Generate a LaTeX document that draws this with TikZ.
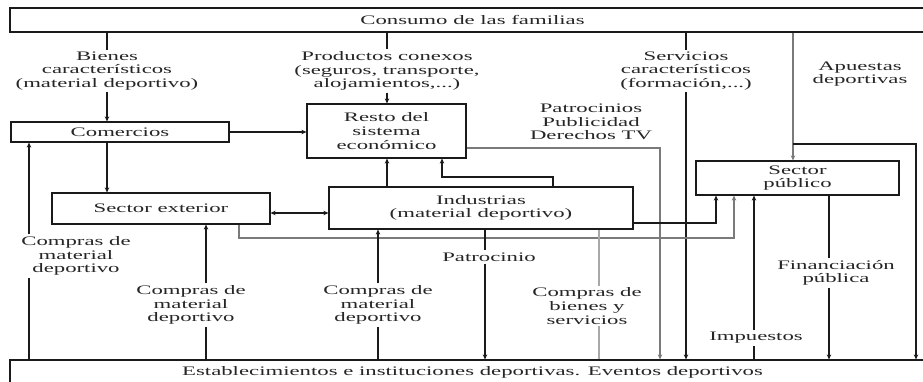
\documentclass[tikz,border=0pt]{standalone}
\usepackage{fontspec}
\setmainfont{Liberation Serif}[FakeStretch=1.75]
\usepackage{xcolor}
\usetikzlibrary{positioning,calc,arrows.meta}
\definecolor{texto}{HTML}{262626}
\definecolor{linea}{HTML}{1A1A1A}
\definecolor{gris}{HTML}{7A7A7A}
\definecolor{grisclaro}{HTML}{A8A8A8}

\begin{document}
\begin{tikzpicture}[x=1pt, y=-1pt,
		caja/.style={draw=linea, line width=1.2pt, inner sep=0pt, align=center, text=texto, font=\fontsize{13}{13.6}\selectfont},
		etiqueta/.style={align=center, inner sep=2pt, text=texto, font=\fontsize{13}{13.6}\selectfont},
		flujo/.style={draw=linea, line width=1.2pt},
		punta/.tip={Stealth[length=5pt, width=4.5pt]},
		flecha/.style={flujo, -punta}]
			\fill[white] (0,0) rectangle (923,381);
			\useasboundingbox (0,0) rectangle (923,381);
			\node[caja, minimum width=925pt, minimum height=24pt] (consumo) at (472.5,20) {Consumo de las familias};
			\node[caja, minimum width=925pt, minimum height=24pt] (establecimientos) at (472.5,372) {Establecimientos e instituciones deportivas. Eventos deportivos};
			\node[caja, minimum width=218pt, minimum height=20pt] (comercios) at (120,132) {Comercios};
			\node[caja, minimum width=159pt, minimum height=54pt] (resto) at (386.5,131) {Resto del\\sistema\\económico};
			\node[caja, minimum width=218pt, minimum height=31pt] (sectorext) at (161,208.5) {Sector exterior};
			\node[caja, minimum width=304pt, minimum height=42pt] (industrias) at (481,208) {Industrias\\(material deportivo)};
			\node[caja, minimum width=203pt, minimum height=34pt] (publico) at (797.5,178) {Sector\\público};

			\node[etiqueta] (bienes) at (107,71) {Bienes\\característicos\\(material deportivo)};
			\node[etiqueta] (conexos) at (387,71) {Productos conexos\\(seguros, transporte,\\alojamientos,...)};
			\node[etiqueta] (servicios) at (686,71) {Servicios\\característicos\\(formación,...)};
			\node[etiqueta] (apuestas) at (860,74) {Apuestas\\deportivas};
			\node[etiqueta] (patrocinios) at (591,122) {Patrocinios\\Publicidad\\Derechos TV};
			\node[etiqueta] (comprasA) at (76,256) {Compras de\\material\\deportivo};
			\node[etiqueta] (comprasB) at (191,305) {Compras de\\material\\deportivo};
			\node[etiqueta] (comprasC) at (378,305) {Compras de\\material\\deportivo};
			\node[etiqueta] (patrocinio) at (489,257) {Patrocinio};
			\node[etiqueta] (comprasG) at (587,306) {Compras de\\bienes y\\servicios};
			\node[etiqueta] (impuestos) at (756,338) {Impuestos};
			\node[etiqueta] (financiacion) at (836,273) {Financiación\\pública};

			\coordinate (xA) at (29,0);
			\coordinate (xB) at (206,0);
			\coordinate (xP) at (485,0);
			\coordinate (xG) at (599,0);
			\coordinate (xT) at (660,148);
			\coordinate (xI) at (754,0);
			\coordinate (xF) at (829,0);
			\coordinate (xAp) at (793,144);
			\coordinate (xR) at (916,144);
			\coordinate (xE) at (239,238);
			\coordinate (xEp) at (734,238);
			\coordinate (xInd) at (716,223);
			\coordinate (k1) at (553,177);
			\coordinate (k2) at (442,177);

			\draw[flujo] (consumo.south -| bienes) -- (bienes.north);
			\draw[flecha] (bienes.south) -- (comercios.north -| bienes);
			\draw[flujo] (consumo.south -| conexos) -- (conexos.north);
			\draw[flecha] (conexos.south) -- (resto.north -| conexos);
			\draw[flujo] (consumo.south -| servicios) -- (servicios.north);
			\draw[flecha] (servicios.south) -- (establecimientos.north -| servicios);
			\draw[flecha, draw=gris, line width=1.5pt] (consumo.south -| xAp) -- (publico.north -| xAp);
			\draw[flecha] (xAp) -- (xR) -- (establecimientos.north -| xR);

			\draw[flecha] (comercios.east) -- (comercios.east -| resto.west);
			\draw[flecha] (comercios.south -| bienes) -- (sectorext.north -| bienes);
			\draw[flujo, punta-punta] ([yshift=-4.5pt]sectorext.east) -- ([yshift=-4.5pt]sectorext.east -| industrias.west);
			\draw[flecha] (industrias.north -| conexos) -- (resto.south -| conexos);
			\draw[flecha] (industrias.north -| k1) -- (k1) -- (k2) -- (resto.south -| k2);
			\draw[flecha, draw=gris] (resto.east |- xT) -- (xT) -- (establecimientos.north -| xT);
			\draw[flecha, draw=gris] (sectorext.south -| xE) -- (xE) -- (xEp) -- (publico.south -| xEp);
			\draw[flecha] (industrias.east |- xInd) -- (xInd) -- (publico.south -| xInd);

			\draw[flujo] (establecimientos.north -| xA) -- (comprasA.south -| xA);
			\draw[flecha] (comprasA.north -| xA) -- (comercios.south -| xA);
			\draw[flujo] (establecimientos.north -| xB) -- (comprasB.south -| xB);
			\draw[flecha] (comprasB.north -| xB) -- (sectorext.south -| xB);
			\draw[flujo] (establecimientos.north -| comprasC) -- (comprasC.south);
			\draw[flecha] (comprasC.north) -- (industrias.south -| comprasC);
			\draw[flujo] (industrias.south -| xP) -- (patrocinio.north -| xP);
			\draw[flecha] (patrocinio.south -| xP) -- (establecimientos.north -| xP);
			\draw[flujo, draw=grisclaro, line width=2pt] (industrias.south -| xG) -- (comprasG.north -| xG);
			\draw[flujo, draw=grisclaro, line width=2pt] (comprasG.south -| xG) -- (establecimientos.north -| xG);
			\draw[flujo] (establecimientos.north -| xI) -- (impuestos.south -| xI);
			\draw[flecha] (impuestos.north -| xI) -- (publico.south -| xI);
			\draw[flujo] (publico.south -| xF) -- (financiacion.north -| xF);
			\draw[flecha] (financiacion.south -| xF) -- (establecimientos.north -| xF);
		\end{tikzpicture}
\end{document}
